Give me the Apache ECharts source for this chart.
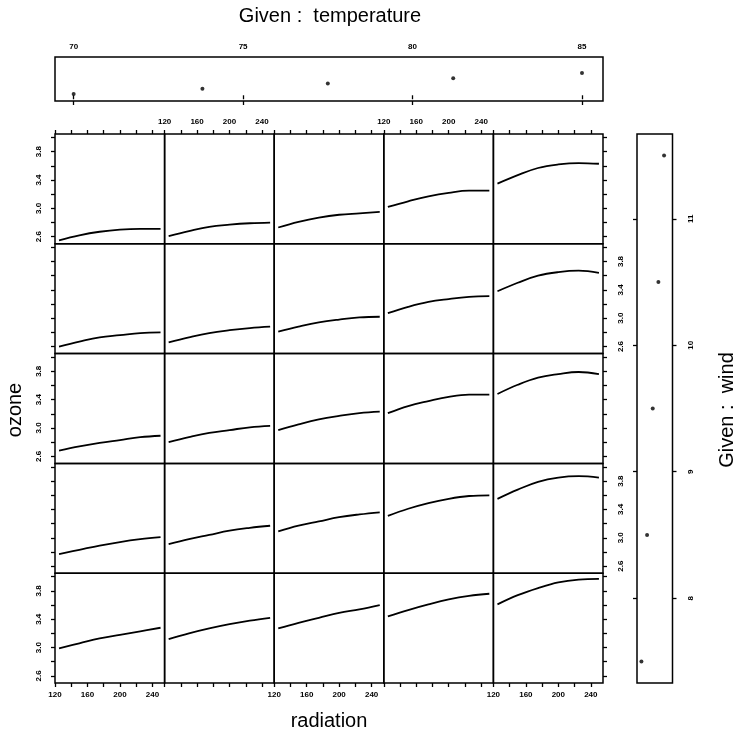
<!DOCTYPE html>
<html>
<head>
<meta charset="utf-8">
<script src="https://cdn.jsdelivr.net/npm/echarts@6/dist/echarts.min.js"></script>
<style>
html,body{margin:0;padding:0;background:#fff;}
#chart{width:739px;height:736px;}
</style>
</head>
<body>
<div id="chart"></div>
<script>
// ---------------- data ----------------
const radiation = [125, 150, 175, 200, 225, 250];
const temperatureLevels = [70, 73.8, 77.5, 81.2, 85];   // columns, left -> right
const windLevels = [11.5, 10.5, 9.5, 8.5, 7.5];          // rows, top -> bottom

// fitted log ozone, one list per temperature column
const ozoneWind11_5 = [
  [2.55, 2.62, 2.67, 2.70, 2.71, 2.71],
  [2.61, 2.68, 2.74, 2.77, 2.79, 2.80],
  [2.73, 2.81, 2.87, 2.91, 2.93, 2.95],
  [3.02, 3.10, 3.17, 3.22, 3.25, 3.25],
  [3.35, 3.47, 3.57, 3.62, 3.64, 3.63]
];
const ozoneWind10_5 = [
  [2.60, 2.67, 2.73, 2.76, 2.79, 2.80],
  [2.66, 2.73, 2.79, 2.83, 2.86, 2.88],
  [2.81, 2.88, 2.94, 2.98, 3.01, 3.02],
  [3.07, 3.16, 3.23, 3.27, 3.30, 3.31],
  [3.38, 3.50, 3.60, 3.65, 3.67, 3.64]
];
const ozoneWind9_5 = [
  [2.68, 2.74, 2.79, 2.83, 2.87, 2.89],
  [2.80, 2.87, 2.93, 2.97, 3.01, 3.03],
  [2.97, 3.05, 3.12, 3.17, 3.21, 3.23],
  [3.21, 3.31, 3.38, 3.44, 3.47, 3.47],
  [3.48, 3.61, 3.71, 3.76, 3.79, 3.76]
];
const ozoneWind8_5 = [
  [2.77, 2.83, 2.89, 2.94, 2.98, 3.01],
  [2.91, 2.98, 3.04, 3.10, 3.14, 3.17],
  [3.09, 3.17, 3.23, 3.29, 3.33, 3.36],
  [3.31, 3.41, 3.49, 3.55, 3.59, 3.60],
  [3.55, 3.68, 3.79, 3.85, 3.87, 3.85]
];
const ozoneWind7_5 = [
  [2.99, 3.06, 3.13, 3.18, 3.23, 3.28],
  [3.12, 3.20, 3.27, 3.33, 3.38, 3.42],
  [3.27, 3.35, 3.42, 3.49, 3.54, 3.60],
  [3.44, 3.53, 3.61, 3.68, 3.73, 3.76],
  [3.61, 3.74, 3.84, 3.92, 3.96, 3.97]
];
const ozoneRows = [ozoneWind11_5, ozoneWind10_5, ozoneWind9_5, ozoneWind8_5, ozoneWind7_5];

// conditioning values shown in the "Given" panels
const tempGiven = [70, 73.8, 77.5, 81.2, 85];
const windGiven = [7.5, 8.5, 9.5, 10.5, 11.5];

// tick values / labels
const radTicks = [120, 140, 160, 180, 200, 220, 240];
const radLabels = [120, 160, 200, 240];
const ozoneTicks = [2.6, 2.8, 3.0, 3.2, 3.4, 3.6, 3.8, 4.0];
const ozoneLabels = [2.6, 3.0, 3.4, 3.8];
const tempTicks = [70, 75, 80, 85];
const windTicks = [8, 9, 10, 11];

// ---------------- layout ----------------
const PL = 55, PT = 134, PW = 109.6, PH = 109.8;
const FONT = 'Liberation Sans, Arial, sans-serif';
const tickLabel = {fontSize: 8, fontWeight: 'bold', color: '#000', fontFamily: FONT};

const option = {
  animation: false,
  backgroundColor: '#fff',
  grid: [], xAxis: [], yAxis: [], series: [], graphic: []
};

for (let r = 0; r < 5; r++) {
  for (let c = 0; c < 5; c++) {
    const gi = option.grid.length;
    option.grid.push({
      left: PL + c * PW, top: PT + r * PH, width: PW, height: PH,
      show: true, borderColor: '#000', borderWidth: 1.5, backgroundColor: 'transparent'
    });
    const xLbl = (r === 0 && c % 2 === 1) || (r === 4 && c % 2 === 0);
    option.xAxis.push({
      type: 'value', gridIndex: gi, min: 120, max: 255, interval: 20,
      position: r === 0 ? 'top' : 'bottom',
      axisLine: {show: false}, splitLine: {show: false},
      axisTick: {show: r === 0 || r === 4, length: 4, customValues: radTicks,
                 lineStyle: {color: '#000', width: 1.3}},
      axisLabel: Object.assign({show: xLbl, margin: 8, customValues: radLabels}, tickLabel)
    });
    const yLbl = (c === 0 && r % 2 === 0) || (c === 4 && r % 2 === 1);
    option.yAxis.push({
      type: 'value', gridIndex: gi, min: 2.5, max: 4.05,
      position: c === 0 ? 'left' : 'right',
      axisLine: {show: false}, splitLine: {show: false},
      axisTick: {show: c === 0 || c === 4, length: 4, customValues: ozoneTicks,
                 lineStyle: {color: '#000', width: 1.3}},
      axisLabel: Object.assign({show: yLbl, rotate: 90, margin: c === 0 ? 12 : 14,
                 customValues: ozoneLabels, formatter: v => v.toFixed(1)}, tickLabel)
    });
    option.series.push({
      type: 'line', xAxisIndex: gi, yAxisIndex: gi, silent: true,
      showSymbol: false, smooth: 0.4,
      lineStyle: {color: '#000', width: 1.8},
      data: radiation.map((x, i) => [x, ozoneRows[r][c][i]])
    });
  }
}

// Given : temperature panel
{
  const gi = option.grid.length;
  option.grid.push({left: PL, top: 57, width: 5 * PW, height: 44, show: true,
                    borderColor: '#000', borderWidth: 1.5, backgroundColor: 'transparent'});
  const xi = option.xAxis.length;
  option.xAxis.push({
    type: 'value', gridIndex: gi, min: 69.45, max: 85.62, position: 'top',
    axisLine: {show: false}, splitLine: {show: false},
    axisTick: {show: true, length: 4, customValues: tempTicks, lineStyle: {color: '#000', width: 1.3}},
    axisLabel: Object.assign({show: true, margin: 6, customValues: tempTicks}, tickLabel)
  });
  option.xAxis.push({
    type: 'value', gridIndex: gi, min: 69.45, max: 85.62, position: 'bottom',
    axisLine: {show: false}, splitLine: {show: false},
    axisTick: {show: true, length: 4, customValues: tempTicks, lineStyle: {color: '#000', width: 1.3}},
    axisLabel: {show: false}
  });
  const yi = option.yAxis.length;
  option.yAxis.push({type: 'value', gridIndex: gi, min: -0.33, max: 8.05, show: false});
  option.series.push({
    type: 'scatter', xAxisIndex: xi, yAxisIndex: yi, silent: true,
    symbolSize: 4, itemStyle: {color: '#000'},
    data: tempGiven.map((t, i) => [t, i + 1])
  });
}

// Given : wind panel
{
  const gi = option.grid.length;
  option.grid.push({left: 637, top: PT, width: 35.5, height: 5 * PH, show: true,
                    borderColor: '#000', borderWidth: 1.5, backgroundColor: 'transparent'});
  const xi = option.xAxis.length;
  option.xAxis.push({type: 'value', gridIndex: gi, min: 0.22, max: 6.49, show: false});
  const yi = option.yAxis.length;
  option.yAxis.push({
    type: 'value', gridIndex: gi, min: 7.33, max: 11.67, position: 'right',
    axisLine: {show: false}, splitLine: {show: false},
    axisTick: {show: true, length: 4, customValues: windTicks, lineStyle: {color: '#000', width: 1.3}},
    axisLabel: Object.assign({show: true, rotate: 90, margin: 14, customValues: windTicks}, tickLabel)
  });
  option.yAxis.push({
    type: 'value', gridIndex: gi, min: 7.33, max: 11.67, position: 'left',
    axisLine: {show: false}, splitLine: {show: false},
    axisTick: {show: true, length: 4, customValues: windTicks, lineStyle: {color: '#000', width: 1.3}},
    axisLabel: {show: false}
  });
  option.series.push({
    type: 'scatter', xAxisIndex: xi, yAxisIndex: yi, silent: true,
    symbolSize: 4, itemStyle: {color: '#000'},
    data: windGiven.map((w, i) => [i + 1, w])
  });
}

// titles
const titleFont = '20px ' + FONT;
option.graphic = [
  {type: 'text', x: 330, y: 16, style: {text: 'Given :  temperature', font: titleFont, fill: '#000', align: 'center', verticalAlign: 'middle'}},
  {type: 'text', x: 329, y: 721, style: {text: 'radiation', font: titleFont, fill: '#000', align: 'center', verticalAlign: 'middle'}},
  {type: 'text', x: 15, y: 410, rotation: Math.PI / 2, style: {text: 'ozone', font: titleFont, fill: '#000', align: 'center', verticalAlign: 'middle'}},
  {type: 'text', x: 727, y: 410, rotation: Math.PI / 2, style: {text: 'Given :  wind', font: titleFont, fill: '#000', align: 'center', verticalAlign: 'middle'}}
];

const chart = echarts.init(document.getElementById('chart'), null, {renderer: 'canvas'});
chart.setOption(option);
</script>
</body>
</html>
